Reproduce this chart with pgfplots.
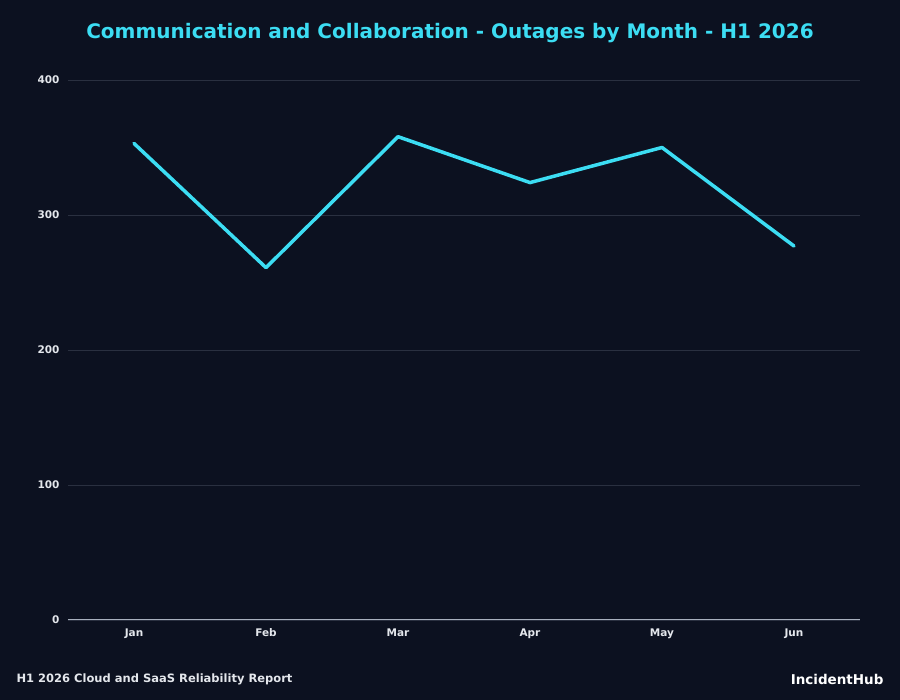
\documentclass[border=0pt]{standalone}
\usepackage{pgfplots}
\pgfplotsset{compat=1.18}
\usepackage{fontspec}
\setmainfont{DejaVu Sans}
\definecolor{bg}{HTML}{0C1120}
\definecolor{accent}{HTML}{3CDDF3}
\definecolor{gridc}{HTML}{2A3040}
\definecolor{basec}{HTML}{A8B0BE}
\definecolor{tickc}{HTML}{E4E7EC}

\pgfplotstableread{
idx month value
0 Jan 353
1 Feb 261
2 Mar 358
3 Apr 324
4 May 350
5 Jun 277
}\outages

\begin{document}
\begin{tikzpicture}[x=1pt,y=1pt]
\fill[bg] (0,0) rectangle (900,700);
\node[font=\fontsize{20}{24}\selectfont\bfseries, text=accent] at (450,667) {Communication and Collaboration - Outages by Month - H1 2026};
\begin{axis}[
  at={(68pt,80pt)}, anchor=south west,
  scale only axis, width=792pt, height=540pt,
  xmin=-0.5, xmax=5.5, ymin=0, ymax=400,
  xtick={0,...,5}, xticklabels={Jan,Feb,Mar,Apr,May,Jun},
  ytick={0,100,200,300,400},
  axis line style={draw=none},
  major tick length=0pt,
  ymajorgrids, grid style={gridc, line width=0.8pt},
  tick label style={font=\fontsize{10.5}{12}\selectfont\bfseries, text=tickc},
  /pgf/number format/assume math mode=true,
  yticklabel style={xshift=-5pt},
  xticklabel style={text height=8pt, text depth=0pt, yshift=-5pt},
  clip=false,
]
\draw[basec, line width=1pt] (axis cs:-0.5,0) -- (axis cs:5.5,0);
\addplot[accent, line width=3.5pt, line join=round, line cap=round] table[x=idx, y=value] {\outages};
\end{axis}
\node[anchor=west, font=\fontsize{11.5}{14}\selectfont\bfseries, text=tickc] at (13,21) {H1 2026 Cloud and SaaS Reliability Report};
\node[anchor=east, font=\fontsize{13.5}{16}\selectfont\bfseries, text=white] at (887,21) {IncidentHub};
\end{tikzpicture}
\end{document}
